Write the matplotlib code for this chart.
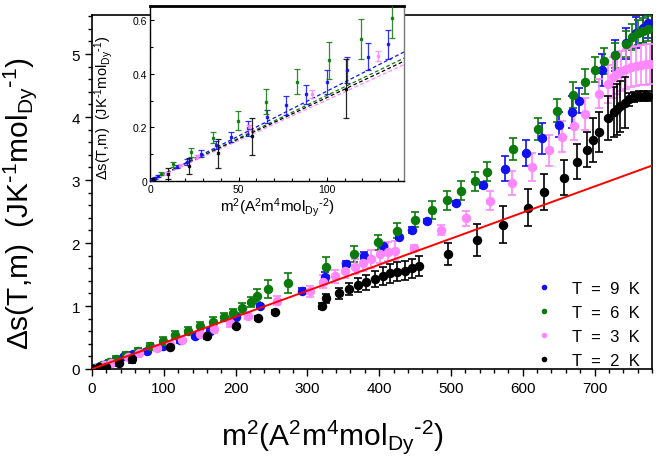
import numpy as np
import matplotlib
matplotlib.use("Agg")
import matplotlib.pyplot as plt
from matplotlib.ticker import MultipleLocator, FuncFormatter

plt.rcParams['font.family'] = ['Liberation Sans', 'DejaVu Sans']
plt.rcParams['mathtext.default'] = 'regular'

# ---------------- main panel data ----------------
x_9K = [2, 8, 20, 33, 44, 57, 76, 99, 122, 143, 164, 201, 234, 292, 324, 354, 379, 405, 427, 446, 466,
        507, 544, 575, 604, 627, 650, 668, 678, 710, 729, 744, 758, 767, 774]
y_9K = [0.01, 0.03, 0.079, 0.14, 0.2, 0.24, 0.28, 0.37, 0.46, 0.53, 0.6, 0.83, 1.0, 1.233, 1.466, 1.667,
        1.8, 1.947, 2.09, 2.21, 2.35, 2.64, 2.92, 3.18, 3.43, 3.66, 3.88, 4.08, 4.26, 4.75, 4.98, 5.17,
        5.34, 5.42, 5.5]
e_9K = [0.02, 0.02, 0.03, 0.03, 0.03, 0.03, 0.03, 0.03, 0.04, 0.04, 0.04, 0.03, 0.03, 0.05, 0.07, 0.05,
        0.05, 0.05, 0.03, 0.05, 0.03, 0.03, 0.05, 0.2, 0.2, 0.25, 0.2, 0.25, 0.2, 0.25, 0.25, 0.25,
        0.25, 0.25, 0.25]

x_6K = [4, 14.4, 24, 34, 48, 64.5, 80.7, 99, 116, 134, 151, 168, 184, 196.6, 209.6, 221.7, 230, 245.8,
        273, 326.5, 365, 398, 425, 450, 473, 495, 514, 533, 550, 587, 621, 647, 670, 687, 700, 713,
        728, 744, 752, 760, 767, 774]
y_6K = [0.02, 0.069, 0.11, 0.159, 0.222, 0.291, 0.37, 0.45, 0.54, 0.61, 0.68, 0.75, 0.825, 0.889, 0.968,
        1.058, 1.164, 1.27, 1.36, 1.624, 1.825, 2.01, 2.196, 2.37, 2.52, 2.68, 2.83, 2.98, 3.13, 3.49,
        3.81, 4.1, 4.35, 4.56, 4.75, 4.89, 4.98, 5.16, 5.27, 5.34, 5.37, 5.4]
e_6K = [0.02, 0.03, 0.04, 0.04, 0.05, 0.05, 0.05, 0.06, 0.06, 0.06, 0.07, 0.07, 0.07, 0.07, 0.08,
        0.08, 0.1, 0.14, 0.16, 0.15, 0.12, 0.12, 0.12, 0.12, 0.14, 0.15, 0.15, 0.15, 0.15, 0.17,
        0.18, 0.18, 0.2, 0.2, 0.2, 0.2, 0.2, 0.2, 0.2, 0.2, 0.2, 0.2]

x_3K = [9, 17, 26, 50, 65, 90, 108.5, 125, 150, 170, 192, 217, 257, 303, 322, 338, 353, 366, 378, 389,
        401, 412, 422, 448, 486, 521, 555, 585, 613, 636, 655, 671, 687, 706, 719, 726, 731, 737, 744,
        751, 758, 765, 772, 777]
y_3K = [0.03, 0.06, 0.09, 0.19, 0.25, 0.328, 0.397, 0.46, 0.55, 0.63, 0.725, 0.847, 1.085, 1.233, 1.386,
        1.47, 1.56, 1.624, 1.69, 1.746, 1.825, 1.86, 1.878, 1.92, 2.2, 2.39, 2.67, 2.95, 3.21, 3.47,
        3.69, 3.85, 4.05, 4.37, 4.53, 4.63, 4.68, 4.73, 4.76, 4.79, 4.815, 4.826, 4.836, 4.84]
e_3K = [0.02, 0.02, 0.03, 0.03, 0.04, 0.04, 0.05, 0.05, 0.05, 0.06, 0.06, 0.06, 0.07, 0.085, 0.1, 0.1,
        0.12, 0.12, 0.13, 0.14, 0.15, 0.15, 0.15, 0.05, 0.08, 0.12, 0.15, 0.19, 0.22, 0.24, 0.25,
        0.22, 0.25, 0.23, 0.3, 0.32, 0.32, 0.32, 0.32, 0.32, 0.32, 0.32, 0.32, 0.32]

x_2K = [2, 10, 20, 38, 56, 108.5, 159.6, 200, 231, 254.6, 320.5, 326.5, 344, 358, 371, 382, 394, 405,
        415, 425, 435.5, 446, 456, 496, 536, 573, 607, 630, 657, 675, 689, 698, 706, 719, 727, 731,
        736, 742, 748, 755, 762, 769, 775]
y_2K = [0.006, 0.027, 0.026, 0.09, 0.159, 0.344, 0.529, 0.688, 0.81, 0.9, 1.005, 1.122, 1.2, 1.27, 1.34,
        1.376, 1.43, 1.48, 1.52, 1.545, 1.56, 1.6, 1.63, 1.825, 2.05, 2.29, 2.56, 2.81, 3.04, 3.29,
        3.48, 3.63, 3.76, 3.98, 4.08, 4.12, 4.17, 4.23, 4.28, 4.32, 4.34, 4.34, 4.34]
e_2K = [0.02, 0.03, 0.04, 0.05, 0.06, 0.03, 0.05, 0.03, 0.03, 0.03, 0.05, 0.07, 0.09, 0.1, 0.11,
        0.12, 0.13, 0.14, 0.15, 0.15, 0.15, 0.15, 0.16, 0.18, 0.25, 0.29, 0.29, 0.28, 0.28, 0.28,
        0.28, 0.35, 0.32, 0.35, 0.4, 0.4, 0.4, 0.4, 0.1, 0.08, 0.08, 0.08, 0.08]

red_slope = 0.00414
red_x = [0, 780]

# ---------------- inset data ----------------
ix_6K = [6.0, 13.2, 23.2, 35.8, 49.9, 65.5, 83, 101, 119, 137]
iy_6K = [0.027, 0.062, 0.107, 0.162, 0.225, 0.297, 0.371, 0.451, 0.532, 0.611]
ie_6K = [0.005, 0.008, 0.018, 0.02, 0.035, 0.045, 0.047, 0.07, 0.075, 0.075]

ix_9K = [1, 2.8, 4.7, 15, 20.7, 28.6, 37.3, 45.8, 55.6, 65.9, 76.6, 88, 99.8, 111.5, 123.4, 134.5]
iy_9K = [0.005, 0.01, 0.019, 0.054, 0.071, 0.102, 0.133, 0.164, 0.197, 0.24, 0.283, 0.324, 0.37,
         0.415, 0.465, 0.511]
ie_9K = [0.003, 0.004, 0.005, 0.006, 0.01, 0.012, 0.015, 0.02, 0.027, 0.025, 0.035, 0.035, 0.045,
         0.048, 0.05, 0.055]

ix_3K = [9.4, 17, 26.4, 56, 91.3, 129]
iy_3K = [0.029, 0.06, 0.093, 0.20, 0.324, 0.467]
ie_3K = [0.005, 0.005, 0.006, 0.01, 0.015, 0.02]

ix_2K = [1.9, 10, 22.2, 38.2, 57.4, 111]
iy_2K = [0.006, 0.027, 0.056, 0.103, 0.167, 0.345]
ie_2K = [0.004, 0.02, 0.03, 0.055, 0.068, 0.11]

fit_slopes = {'9K': 0.00336, '6K': 0.0032, '2K': 0.00312, '3K': 0.00303}
fit_x = [0, 143.5]

labels = ['T  =  9  K', 'T  =  6  K', 'T  =  3  K', 'T  =  2  K']
colors = {'9K': '#1010f0', '6K': '#0a7a0a', '3K': '#ff88ff', '2K': '#000000'}

ylab = r'$\Delta$s(T,m)  (JK$^{\text{-}1}$mol$_{Dy}$$^{\text{-}1}$)'
xlab = r'm$^{2}$(A$^{2}$m$^{4}$mol$_{Dy}$$^{\text{-}2}$)'

# ---------------- figure ----------------
W, H = 664, 464
fig = plt.figure(figsize=(W / 100, H / 100), dpi=100)
ax = fig.add_axes([92 / W, 1 - 370 / H, 560 / W, 354 / H])

series = [('9K', x_9K, y_9K, e_9K), ('6K', x_6K, y_6K, e_6K),
          ('3K', x_3K, y_3K, e_3K), ('2K', x_2K, y_2K, e_2K)]
handles = []
for (key, xs, ys, es), lab in zip(series, labels):
    c = colors[key]
    ax.errorbar(xs, ys, yerr=es, fmt='o', color=c, ms=5.8, ecolor=c, elinewidth=1.2,
                capsize=3, capthick=1.2, zorder=3)
    h, = ax.plot([], [], 'o', color=c, ms=3, label=lab)
    handles.append(h)

rx = np.array(red_x, dtype=float)
ax.plot(rx, red_slope * rx, color='#ff0000', lw=1.4, zorder=5)

ax.set_xlim(0, 780)
ax.set_ylim(0, 5.62)
ax.xaxis.set_major_locator(MultipleLocator(100))
ax.xaxis.set_minor_locator(MultipleLocator(20))
ax.yaxis.set_major_locator(MultipleLocator(1))
ax.yaxis.set_minor_locator(MultipleLocator(0.2))
ax.tick_params(which='both', direction='out', top=False, right=False, labelsize=11, width=1)
ax.tick_params(which='major', length=5)
ax.tick_params(which='minor', length=3)
for s in ax.spines.values():
    s.set_linewidth(1.2)

ax.set_ylabel(ylab, fontsize=21.5)
ax.yaxis.set_label_coords(-0.095, 0.47)
ax.set_xlabel(xlab, fontsize=21.5)
ax.xaxis.set_label_coords(0.43, -0.135)

leg = ax.legend(handles=handles, loc='lower right', frameon=False, fontsize=12,
                handlelength=0.8, handletextpad=1.3, labelspacing=0.55,
                bbox_to_anchor=(1.005, -0.04))

# ---------------- inset ----------------
ins = fig.add_axes([150 / W, 1 - 182 / H, 254 / W, 175 / H])
ins.set_facecolor('white')
iseries = [('9K', ix_9K, iy_9K, ie_9K), ('6K', ix_6K, iy_6K, ie_6K),
           ('3K', ix_3K, iy_3K, ie_3K), ('2K', ix_2K, iy_2K, ie_2K)]
fx = np.array(fit_x, dtype=float)
for key in ['9K', '6K', '2K', '3K']:
    ins.plot(fx, fit_slopes[key] * fx, ls=(0, (3, 2)), color=colors[key], lw=0.9, zorder=2)
for key, xs, ys, es in iseries:
    c = colors[key]
    ins.errorbar(xs, ys, yerr=es, fmt='s', color=c, ms=2, ecolor=c, elinewidth=0.9,
                 capsize=2, capthick=0.9, alpha=0.85, zorder=3)
ins.set_xlim(0, 143.5)
ins.set_ylim(0, 0.654)
ins.xaxis.set_major_locator(MultipleLocator(50))
ins.xaxis.set_minor_locator(MultipleLocator(10))
ins.yaxis.set_major_locator(MultipleLocator(0.2))
ins.yaxis.set_minor_locator(MultipleLocator(0.1))
ins.yaxis.set_major_formatter(FuncFormatter(lambda v, p: '0' if abs(v) < 1e-9 else f'{v:.1f}'))
ins.tick_params(which='both', direction='in', top=False, right=False, labelsize=7.5, width=0.8,
                pad=2)
ins.tick_params(which='major', length=3)
ins.tick_params(which='minor', length=2)
for s in ins.spines.values():
    s.set_linewidth(1.0)
ins.spines['top'].set_linewidth(2)
ins.spines['right'].set_color('#777777')
ins.set_xlabel(xlab, fontsize=11, labelpad=1)
fig.text(104 / W, 1 - 108 / H, ylab, fontsize=10.5, rotation=90, ha='center', va='center')

fig.savefig('out.png', dpi=100)
